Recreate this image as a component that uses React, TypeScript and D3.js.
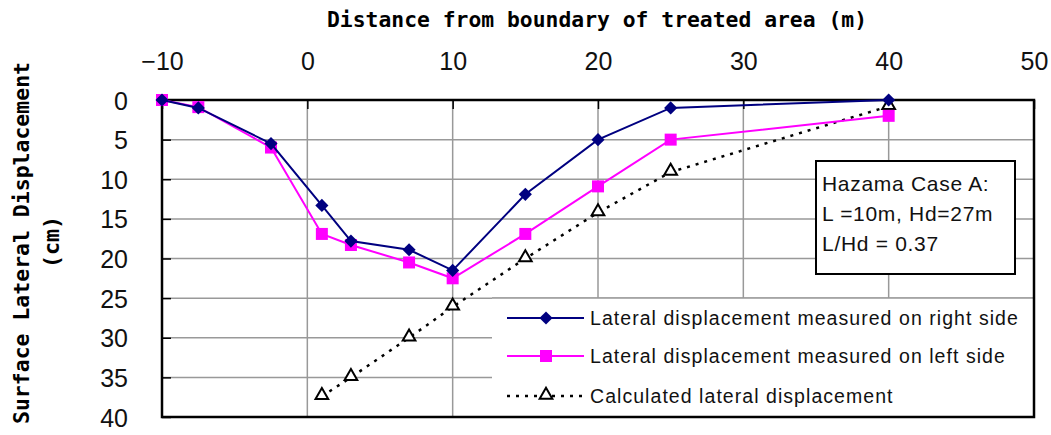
import React, { useRef, useEffect } from "react";
import * as d3 from "d3";

// data
const rightX = [-10, -7.5, -2.5, 1, 3, 7, 10, 15, 20, 25, 40];
const rightY = [0, 1, 5.5, 13.3, 17.8, 18.9, 21.5, 11.9, 5, 1, 0];
const leftX = [-10, -7.5, -2.5, 1, 3, 7, 10, 15, 20, 25, 40];
const leftY = [0, 0.9, 6, 16.9, 18.3, 20.5, 22.5, 16.9, 10.9, 5, 2];
const calcX = [1, 3, 7, 10, 15, 20, 25, 40];
const calcY = [37.4, 35, 30, 26.1, 20, 14.2, 9.1, 0.8];
const xTicks = [-10, 0, 10, 20, 30, 40, 50];
const yTicks = [0, 5, 10, 15, 20, 25, 30, 35, 40];
const legendLabels = [
  "Lateral displacement measured on right side",
  "Lateral displacement measured on left side",
  "Calculated lateral displacement",
];
const noteLines = ["Hazama Case A:", "L =10m, Hd=27m", "L/Hd = 0.37"];

const NAVY = "#000080";
const MAGENTA = "#ff00ff";
const GOTHIC = "'DejaVu Sans Mono', monospace";
const SANS = "'Liberation Sans', Arial, sans-serif";

function App() {
  const ref = useRef<SVGSVGElement | null>(null);

  useEffect(() => {
    const svg = d3.select(ref.current);
    svg.selectAll("*").remove();

    const left = 162, right = 1034, top = 100, bottom = 417;
    const x = d3.scaleLinear().domain([-10, 50]).range([left, right]);
    const y = d3.scaleLinear().domain([0, 40]).range([top, bottom]);

    // grid
    const grid = svg.append("g");
    grid.selectAll("line.v")
      .data(xTicks.slice(1, -1))
      .enter().append("line")
      .attr("x1", d => x(d)).attr("x2", d => x(d))
      .attr("y1", top).attr("y2", bottom)
      .attr("stroke", "#999").attr("stroke-width", 1.5);
    grid.selectAll("line.h")
      .data(yTicks.slice(1, -1))
      .enter().append("line")
      .attr("x1", left).attr("x2", right)
      .attr("y1", d => y(d)).attr("y2", d => y(d))
      .attr("stroke", "#999").attr("stroke-width", 1.5);

    // legend background (covers grid)
    const legL = 492, legT = 298;
    svg.append("rect")
      .attr("x", legL).attr("y", legT)
      .attr("width", right - legL).attr("height", bottom - legT)
      .attr("fill", "white");
    svg.append("line")
      .attr("x1", legL).attr("x2", right).attr("y1", legT).attr("y2", legT)
      .attr("stroke", "#999").attr("stroke-width", 1.5);

    // axes (ticks inward)
    const xAxis = svg.append("g")
      .attr("transform", `translate(0,${top})`)
      .call(d3.axisTop(x).tickValues(xTicks).tickSizeInner(-9).tickSizeOuter(0)
        .tickFormat(d => (+d < 0 ? "\u2212" + Math.abs(+d) : String(d))));
    xAxis.select(".domain").remove();
    xAxis.selectAll(".tick line").attr("stroke", "black").attr("stroke-width", 1.5);
    xAxis.selectAll(".tick text")
      .attr("y", -30).attr("dy", 0)
      .attr("font-family", SANS).attr("font-size", 25).attr("fill", "#111");

    const yAxis = svg.append("g")
      .attr("transform", `translate(${left},0)`)
      .call(d3.axisLeft(y).tickValues(yTicks).tickSizeInner(-9).tickSizeOuter(0));
    yAxis.select(".domain").remove();
    yAxis.selectAll(".tick line").attr("stroke", "black").attr("stroke-width", 1.5);
    yAxis.selectAll(".tick text")
      .attr("x", -34).attr("dy", "0.36em")
      .attr("font-family", SANS).attr("font-size", 25).attr("fill", "#111");

    // plot frame
    svg.append("rect")
      .attr("x", left).attr("y", top)
      .attr("width", right - left).attr("height", bottom - top)
      .attr("fill", "none").attr("stroke", "black").attr("stroke-width", 2.5);

    // axis titles
    svg.append("text")
      .attr("x", 597).attr("y", 27)
      .attr("text-anchor", "middle")
      .attr("font-family", GOTHIC).attr("font-weight", "bold").attr("font-size", 21)
      .attr("textLength", 540).attr("lengthAdjust", "spacingAndGlyphs")
      .text("Distance from boundary of treated area (m)");
    svg.append("text")
      .attr("transform", "translate(29,243) rotate(-90)")
      .attr("text-anchor", "middle")
      .attr("font-family", GOTHIC).attr("font-weight", "bold").attr("font-size", 21)
      .attr("textLength", 362).attr("lengthAdjust", "spacingAndGlyphs")
      .text("Surface Lateral Displacement");
    svg.append("text")
      .attr("transform", "translate(59,242) rotate(-90)")
      .attr("text-anchor", "middle")
      .attr("font-family", GOTHIC).attr("font-weight", "bold").attr("font-size", 21)
      .attr("textLength", 52).attr("lengthAdjust", "spacingAndGlyphs")
      .text("(cm)");

    const line = d3.line<[number, number]>().x(d => x(d[0])).y(d => y(d[1]));
    const rightPts = rightX.map((v, i) => [v, rightY[i]] as [number, number]);
    const leftPts = leftX.map((v, i) => [v, leftY[i]] as [number, number]);
    const calcPts = calcX.map((v, i) => [v, calcY[i]] as [number, number]);

    const diamond = d3.symbol().type(d3.symbolDiamond2).size(110);
    const square = d3.symbol().type(d3.symbolSquare).size(144);
    const triangle = d3.symbol().type(d3.symbolTriangle2).size(115);

    // calculated series
    svg.append("path").datum(calcPts)
      .attr("d", line).attr("fill", "none")
      .attr("stroke", "black").attr("stroke-width", 2.5).attr("stroke-dasharray", "3,6");
    svg.append("g").selectAll("path").data(calcPts).enter().append("path")
      .attr("transform", d => `translate(${x(d[0])},${y(d[1]) - 1})`)
      .attr("d", triangle).attr("fill", "white").attr("stroke", "black").attr("stroke-width", 2);

    // left side series
    svg.append("path").datum(leftPts)
      .attr("d", line).attr("fill", "none")
      .attr("stroke", MAGENTA).attr("stroke-width", 2);
    svg.append("g").selectAll("path").data(leftPts).enter().append("path")
      .attr("transform", d => `translate(${x(d[0])},${y(d[1])})`)
      .attr("d", square).attr("fill", MAGENTA);

    // right side series
    svg.append("path").datum(rightPts)
      .attr("d", line).attr("fill", "none")
      .attr("stroke", NAVY).attr("stroke-width", 2);
    svg.append("g").selectAll("path").data(rightPts).enter().append("path")
      .attr("transform", d => `translate(${x(d[0])},${y(d[1])})`)
      .attr("d", diamond).attr("fill", NAVY);

    // legend
    const rowsY = [318, 356, 396];
    const leg = svg.append("g");
    const styles = [
      { stroke: NAVY, dash: null, sym: diamond, fill: NAVY, sw: 0 },
      { stroke: MAGENTA, dash: null, sym: square, fill: MAGENTA, sw: 0 },
      { stroke: "black", dash: "3,6", sym: triangle, fill: "white", sw: 2 },
    ];
    legendLabels.forEach((lab, i) => {
      const s = styles[i];
      leg.append("line")
        .attr("x1", 507).attr("x2", 584).attr("y1", rowsY[i]).attr("y2", rowsY[i])
        .attr("stroke", s.stroke).attr("stroke-width", i === 2 ? 2.5 : 2)
        .attr("stroke-dasharray", s.dash);
      leg.append("path")
        .attr("transform", `translate(546,${rowsY[i] - (i === 2 ? 1 : 0)})`)
        .attr("d", s.sym).attr("fill", s.fill)
        .attr("stroke", i === 2 ? "black" : "none").attr("stroke-width", s.sw);
      leg.append("text")
        .attr("x", 590).attr("y", rowsY[i]).attr("dy", "0.36em")
        .attr("font-family", SANS).attr("font-size", 19.5).attr("letter-spacing", 1.05)
        .attr("fill", "#111")
        .text(lab);
    });

    // annotation box
    svg.append("rect")
      .attr("x", 816).attr("y", 161).attr("width", 199).attr("height", 113)
      .attr("fill", "white").attr("stroke", "black").attr("stroke-width", 2);
    svg.append("g").selectAll("text").data(noteLines).enter().append("text")
      .attr("x", 822).attr("y", (d, i) => 191 + i * 30)
      .attr("font-family", SANS).attr("font-size", 21).attr("letter-spacing", 0.7)
      .attr("fill", "#111")
      .text(d => d);
  }, []);

  return (
    <svg
      ref={ref}
      width={1051}
      height={435}
      style={{ position: "absolute", left: 0, top: 0, background: "white" }}
    />
  );
}

export default App;
